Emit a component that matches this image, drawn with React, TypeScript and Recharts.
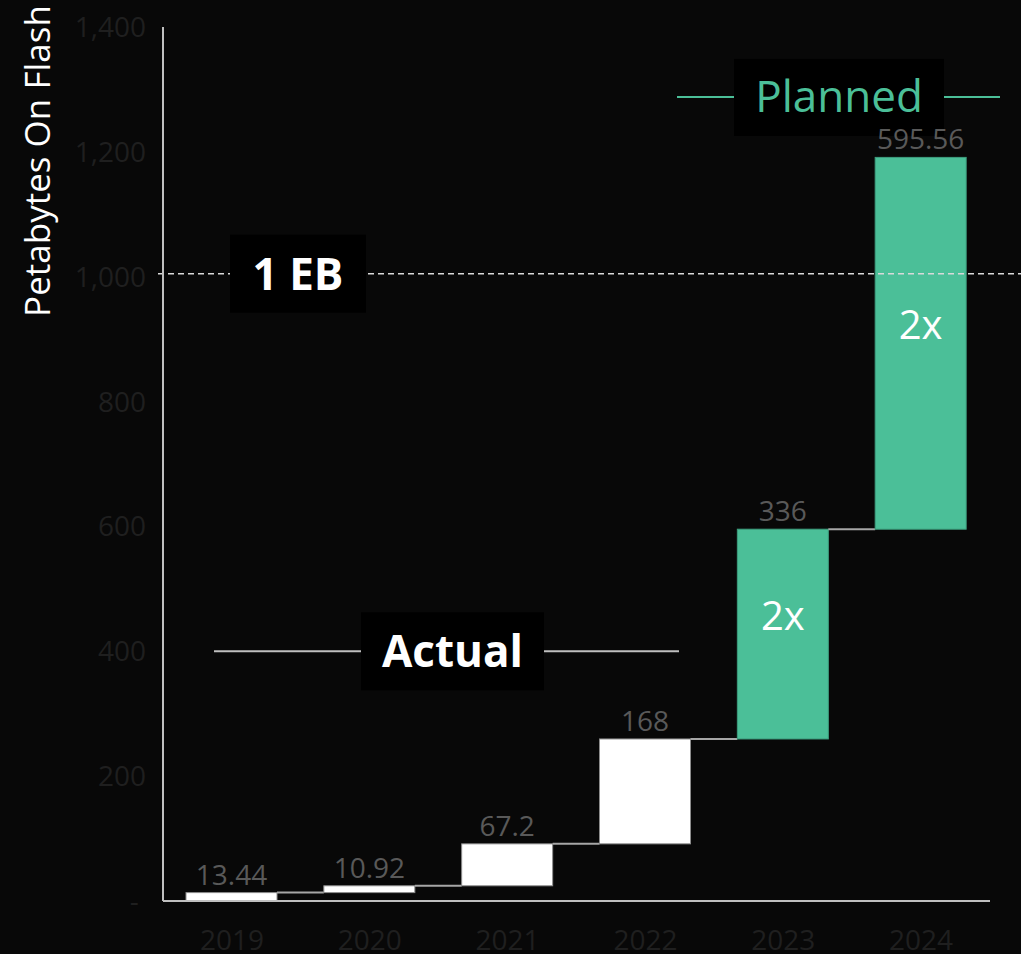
import { BarChart, Bar, XAxis, YAxis, Cell, LabelList, ReferenceLine } from 'recharts';

const years = ['2019', '2020', '2021', '2022', '2023', '2024'];
const added = [13.44, 10.92, 67.2, 168, 336, 595.56];
const growth = ['', '', '', '', '2x', '2x'];
const plannedFrom = 4; // 2023 onward is the plan
const yTicks = [0, 200, 400, 600, 800, 1000, 1200, 1400];
const ebLevel = 1000;
const actualLevel = 400;
const plannedLevel = 1288;

const W = 1021;
const H = 954;
const M = { top: 27, right: 31, bottom: 3, left: 0 };
const Y_W = 163;
const X_H = 50;
const BAR_W = 91;
const PLOT_W = W - M.left - M.right - Y_W;
const GAP = PLOT_W / years.length - BAR_W;

const BG = '#080808';
const GREEN = '#4bbf98';
const FONT = '"Open Sans", sans-serif';

let running = 0;
const data = years.map((year, i) => {
  const base = running;
  running += added[i];
  return { year, base, added: added[i], growth: growth[i] };
});

function StepBar(props: any) {
  const { x, y, width, height, index } = props;
  const planned = index >= plannedFrom;
  return (
    <g>
      <rect x={x} y={y} width={width} height={height} fill={planned ? GREEN : '#ffffff'}
        stroke={planned ? '#3d9e7e' : '#8c8c8c'} strokeWidth={1} />
      {index < years.length - 1 && (
        <line x1={x + width} x2={x + width + GAP} y1={y} y2={y} stroke="#a6a6a6" strokeWidth={2} />
      )}
    </g>
  );
}

function ValueLabel(props: any) {
  const { x, y, width, value } = props;
  return (
    <text x={x + width / 2} y={y - 8} textAnchor="middle" fill="#595959" fontSize={28} fontFamily={FONT}>
      {value}
    </text>
  );
}

function GrowthLabel(props: any) {
  const { x, y, width, height, value } = props;
  if (!value) return null;
  return (
    <text x={x + width / 2} y={y + height / 2 - 4} textAnchor="middle" fill="#ffffff" fontSize={40} fontFamily={FONT}>
      {value}
    </text>
  );
}

function EbMark(props: any) {
  const { x, y, width } = props.viewBox;
  return (
    <g>
      <line x1={x - 5} x2={x + width + M.right} y1={y - 3} y2={y - 3} stroke="#d9d9d9" strokeWidth={1.5} strokeDasharray="6 4" />
      <rect x={x + 67} y={y - 42} width={136} height={78} fill="#000000" />
      <text x={x + 135} y={y + 13} textAnchor="middle" fill="#ffffff" fontSize={44} fontWeight={700} fontFamily={FONT}>
        1 EB
      </text>
    </g>
  );
}

function ActualMark(props: any) {
  const { x, y } = props.viewBox;
  return (
    <g>
      <line x1={x + 51} x2={x + 198} y1={y} y2={y} stroke="#bfbfbf" strokeWidth={2} />
      <line x1={x + 381} x2={x + 516} y1={y} y2={y} stroke="#bfbfbf" strokeWidth={2} />
      <rect x={x + 198} y={y - 39} width={183} height={78} fill="#000000" />
      <text x={x + 289.5} y={y + 16} textAnchor="middle" fill="#ffffff" fontSize={44} fontWeight={700} fontFamily={FONT}>
        Actual
      </text>
    </g>
  );
}

function PlannedMark(props: any) {
  const { x, y } = props.viewBox;
  return (
    <g>
      <line x1={x + 514} x2={x + 571} y1={y} y2={y} stroke={GREEN} strokeWidth={2} />
      <line x1={x + 781} x2={x + 837} y1={y} y2={y} stroke={GREEN} strokeWidth={2} />
      <rect x={x + 571} y={y - 38} width={210} height={77} fill="#000000" />
      <text x={x + 676} y={y + 15} textAnchor="middle" fill={GREEN} fontSize={44} fontFamily={FONT}>
        Planned
      </text>
    </g>
  );
}

function AxisTitle() {
  return (
    <text x={50} y={161} transform="rotate(-90 50 161)" textAnchor="middle" fill="#ffffff" fontSize={35} fontFamily={FONT}>
      Petabytes On Flash
    </text>
  );
}

export default function App() {
  return (
    <div style={{ position: 'absolute', left: 0, top: 0, width: W, height: H, background: BG, fontFamily: FONT }}>
      <BarChart width={W} height={H} data={data} margin={M}>
        <XAxis dataKey="year" height={X_H} tickLine={false} tickSize={0} tickMargin={29}
          axisLine={{ stroke: '#bfbfbf', strokeWidth: 2 }}
          tick={{ fill: '#1f1f1f', fontSize: 28, fontFamily: FONT }} />
        <YAxis width={Y_W} domain={[0, 1400]} ticks={yTicks} interval={0} tickLine={false} tickSize={0} tickMargin={17}
          axisLine={{ stroke: '#bfbfbf', strokeWidth: 2 }}
          tick={{ fill: '#1f1f1f', fontSize: 28, fontFamily: FONT }}
          tickFormatter={(v: number) => (v === 0 ? '-\u00a0' : v.toLocaleString('en-US'))}
          label={{ content: () => <AxisTitle /> }} />
        <Bar dataKey="base" stackId="w" fill="transparent" barSize={BAR_W} isAnimationActive={false} />
        <Bar dataKey="added" stackId="w" barSize={BAR_W} shape={StepBar} isAnimationActive={false}>
          {data.map((d, i) => (
            <Cell key={d.year} fill={i >= plannedFrom ? GREEN : '#ffffff'} />
          ))}
          <LabelList dataKey="added" content={ValueLabel} />
          <LabelList dataKey="growth" content={GrowthLabel} />
        </Bar>
        <ReferenceLine y={ebLevel} stroke="none" label={EbMark} />
        <ReferenceLine y={actualLevel} stroke="none" label={ActualMark} />
        <ReferenceLine y={plannedLevel} stroke="none" label={PlannedMark} />
      </BarChart>
    </div>
  );
}
